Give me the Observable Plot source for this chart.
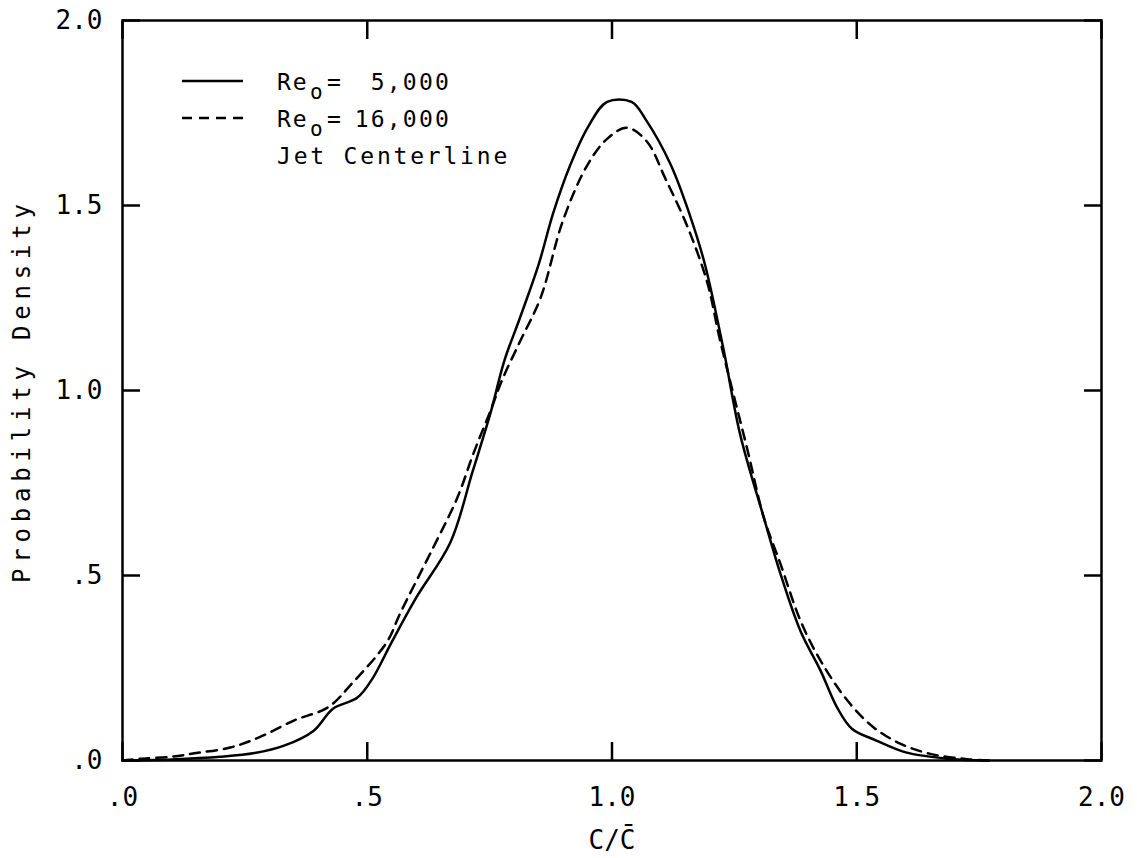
<!DOCTYPE html>
<html><head><meta charset="utf-8">
<script src="https://cdn.jsdelivr.net/npm/d3@7"></script>
<script src="https://cdn.jsdelivr.net/npm/@observablehq/plot@0.6"></script>
<style>
body{margin:0;background:#fff;}
#wrap{position:relative;width:1137px;height:858px;}
#legend{position:absolute;left:0;top:0;}
</style></head><body><div id="wrap"></div>
<script>
// Re_o = 5,000 (solid)
const solidX = [0, 0.1, 0.2, 0.27, 0.33, 0.39, 0.43, 0.48, 0.51, 0.55, 0.6, 0.67, 0.715, 0.752, 0.78, 0.813, 0.85, 0.88, 0.915, 0.95, 0.99, 1.04, 1.07, 1.12, 1.16, 1.19, 1.228, 1.262, 1.31, 1.344, 1.385, 1.426, 1.46, 1.49, 1.54, 1.6, 1.685, 1.77];
const solidY = [0, 0.003, 0.01, 0.02, 0.04, 0.08, 0.14, 0.17, 0.22, 0.32, 0.44, 0.59, 0.78, 0.94, 1.08, 1.2, 1.34, 1.48, 1.61, 1.71, 1.78, 1.78, 1.73, 1.61, 1.47, 1.34, 1.11, 0.88, 0.657, 0.505, 0.35, 0.243, 0.143, 0.086, 0.054, 0.022, 0.005, 0];
// Re_o = 16,000 (dashed)
const dashX = [0, 0.04, 0.1, 0.15, 0.22, 0.28, 0.35, 0.42, 0.47, 0.54, 0.568, 0.635, 0.684, 0.717, 0.752, 0.776, 0.813, 0.854, 0.9, 0.95, 0.99, 1.03, 1.07, 1.11, 1.155, 1.195, 1.22, 1.277, 1.31, 1.344, 1.385, 1.426, 1.481, 1.534, 1.59, 1.65, 1.73, 1.77];
const dashY = [0, 0.005, 0.01, 0.02, 0.035, 0.063, 0.108, 0.144, 0.21, 0.32, 0.40, 0.576, 0.71, 0.83, 0.946, 1.03, 1.135, 1.25, 1.46, 1.61, 1.68, 1.71, 1.675, 1.57, 1.44, 1.29, 1.14, 0.838, 0.657, 0.532, 0.378, 0.27, 0.162, 0.09, 0.045, 0.018, 0.003, 0];

const xTicks = [0, 0.5, 1, 1.5, 2];
const xTickLabels = [".0", ".5", "1.0", "1.5", "2.0"];
const yTicks = [0, 0.5, 1, 1.5, 2];
const yTickLabels = [".0", ".5", "1.0", "1.5", "2.0"];
const xLabel = "C/C\u0304";
const yLabel = "Probability Density";
const legendNumbers = ["5,000", "16,000"];
const legendNote = "Jet Centerline";

const solid = solidX.map((x, i) => ({x, y: solidY[i]}));
const dashed = dashX.map((x, i) => ({x, y: dashY[i]}));
const font = "DejaVu Sans Mono";

const plot = Plot.plot({
  width: 1137, height: 858,
  marginLeft: 122, marginRight: 36, marginTop: 20, marginBottom: 98,
  x: {domain: [0, 2]},
  y: {domain: [0, 2]},
  style: {fontFamily: font, fontSize: "26px", color: "#000", background: "#fff"},
  marks: [
    Plot.axisX(xTicks, {anchor: "bottom", tickSize: -18, tickFormat: () => "", label: null, strokeWidth: 2.5}),
    Plot.axisX(xTicks, {anchor: "top", tickSize: -18, tickFormat: () => "", label: null, strokeWidth: 2.5}),
    Plot.axisY(yTicks, {anchor: "left", tickSize: -18, tickFormat: () => "", label: null, strokeWidth: 2.5}),
    Plot.axisY(yTicks, {anchor: "right", tickSize: -18, tickFormat: () => "", label: null, strokeWidth: 2.5}),
    Plot.axisX(xTicks, {anchor: "bottom", tickSize: 0, tickPadding: 27, tickFormat: d => xTickLabels[xTicks.indexOf(d)], label: null, fontSize: 26}),
    Plot.axisY(yTicks, {anchor: "left", tickSize: 0, tickPadding: 20, tickFormat: d => yTickLabels[yTicks.indexOf(d)], label: null, fontSize: 26}),
    Plot.frame({stroke: "#000", strokeWidth: 2.5}),
    Plot.text([xLabel], {frameAnchor: "bottom", dy: 80, fontSize: 26, lineAnchor: "middle"}),
    Plot.text([yLabel], {frameAnchor: "left", dx: -100, rotate: -90, fontSize: 24, lineAnchor: "middle", textAnchor: "middle", className: "ylab"}),
    Plot.line(solid, {x: "x", y: "y", stroke: "#000", strokeWidth: 2.5, curve: "catmull-rom"}),
    Plot.line(dashed, {x: "x", y: "y", stroke: "#000", strokeWidth: 2.5, strokeDasharray: "10,7", curve: "catmull-rom"})
  ]
});
d3.select(plot).selectAll(".ylab text").style("letter-spacing", "5.8px");
const wrap = document.getElementById("wrap");
wrap.appendChild(plot);

// legend overlay
const lg = d3.select(wrap).append("svg").attr("id", "legend").attr("width", 1137).attr("height", 200)
  .style("font-family", font).style("font-size", "23px");
lg.append("line").attr("x1", 182).attr("x2", 243).attr("y1", 81).attr("y2", 81).attr("stroke", "#000").attr("stroke-width", 2.5);
lg.append("line").attr("x1", 182).attr("x2", 243).attr("y1", 118).attr("y2", 118).attr("stroke", "#000").attr("stroke-width", 2.5).attr("stroke-dasharray", "10,7");
const baselines = [90, 127];
legendNumbers.forEach((num, i) => {
  const b = baselines[i];
  lg.append("text").attr("x", 277).attr("y", b).style("letter-spacing", "2px").text("Re");
  lg.append("text").attr("x", 310).attr("y", b + 9).style("font-size", "21px").text("o");
  lg.append("text").attr("x", 327).attr("y", b).text("=");
  lg.append("text").attr("x", 451).attr("y", b).attr("text-anchor", "end").style("letter-spacing", "2.2px").text(num);
});
lg.append("text").attr("x", 277).attr("y", 164).style("letter-spacing", "2.8px").text(legendNote);
</script></body></html>
